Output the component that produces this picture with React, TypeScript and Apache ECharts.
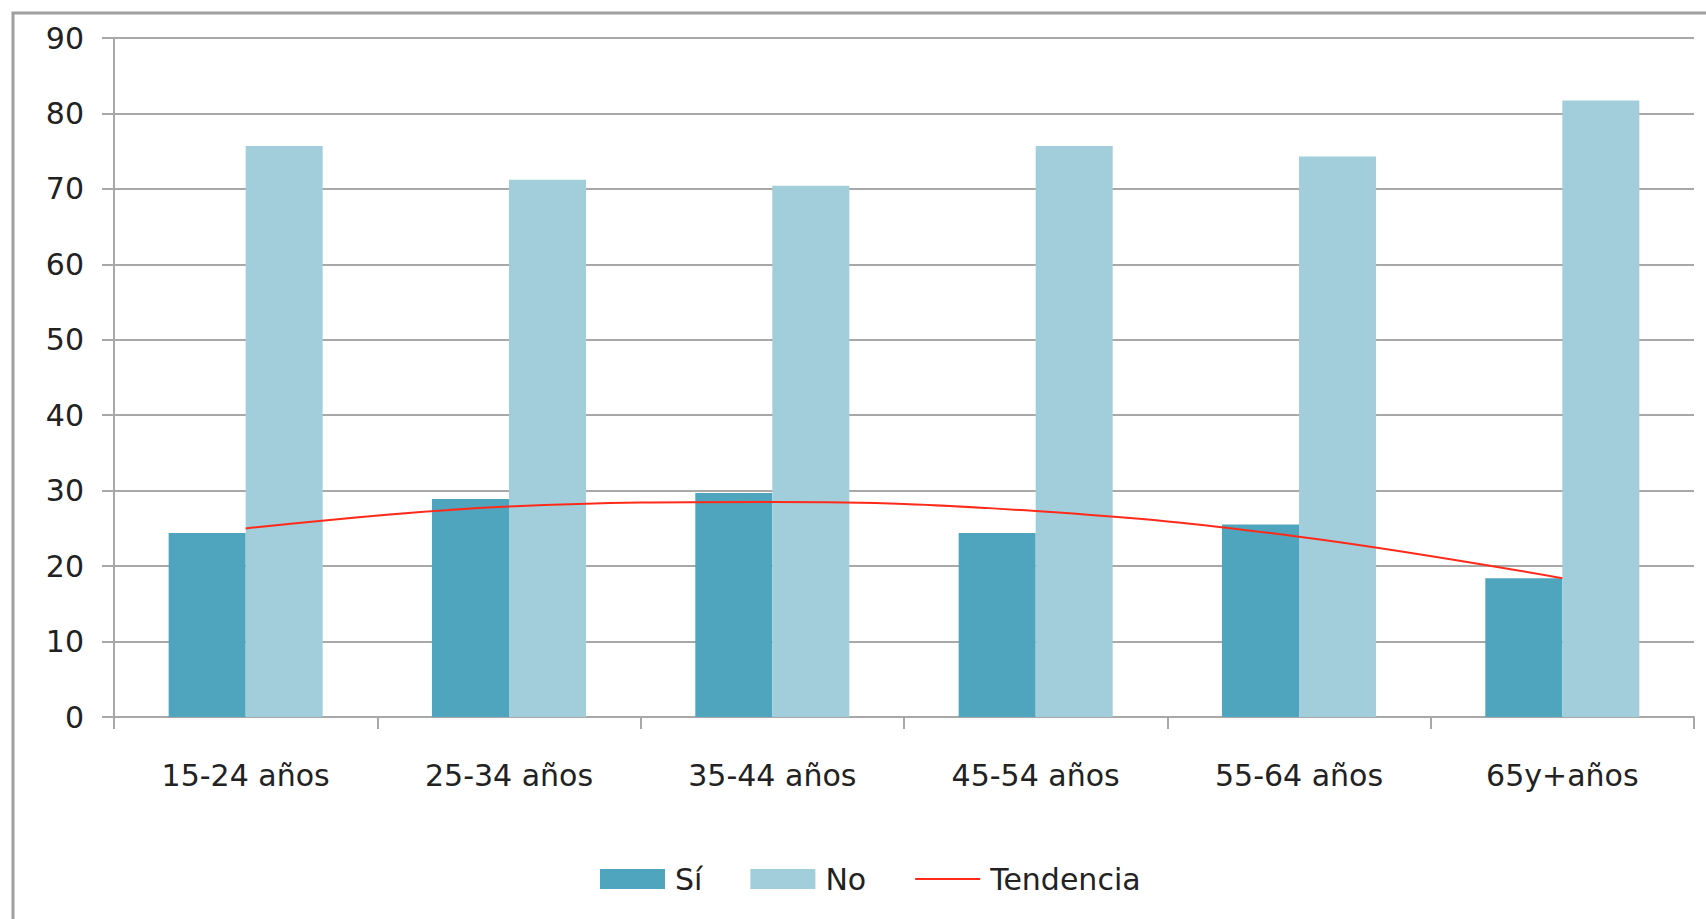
import React, { useEffect, useRef } from "react";
import * as echarts from "echarts";

const categories = ["15-24 años", "25-34 años", "35-44 años", "45-54 años", "55-64 años", "65y+años"];
const siValues = [24.4, 28.9, 29.7, 24.4, 25.5, 18.4];
const noValues = [75.7, 71.2, 70.4, 75.7, 74.3, 81.7];
const trendValues = [25.0, 27.9, 28.5, 27.3, 23.9, 18.4];
const yTicks = { min: 0, max: 90, interval: 10 };

const FONT = "DejaVu Sans";
const GRAY = "#a8a8a8";

export default function App() {
  const ref = useRef<HTMLDivElement>(null);
  useEffect(() => {
    if (!ref.current) return;
    const chart = echarts.init(ref.current, null, { renderer: "svg" });
    chart.setOption({
      animation: false,
      backgroundColor: "#ffffff",
      textStyle: { fontFamily: FONT },
      graphic: [
        {
          type: "rect",
          shape: { x: 13, y: 13, width: 1760, height: 1000 },
          style: { fill: "none", stroke: "#a0a0a0", lineWidth: 3 },
          silent: true,
        },
      ],
      grid: { left: 114, right: 12, top: 38, bottom: 202, containLabel: false },
      legend: {
        left: 595,
        top: 859,
        itemWidth: 65,
        itemHeight: 20,
        itemGap: 48,
        textStyle: { fontFamily: FONT, fontSize: 30, color: "#222", padding: [0, 0, 0, 5] },
        data: [
          { name: "Sí", icon: "rect" },
          { name: "No", icon: "rect" },
          { name: "Tendencia", itemStyle: { opacity: 0 } },
        ],
      },
      xAxis: {
        type: "category",
        data: categories,
        axisLine: { show: true, lineStyle: { color: GRAY, width: 2 } },
        axisTick: { show: true, length: 12, lineStyle: { color: GRAY, width: 2 } },
        axisLabel: { fontFamily: FONT, fontSize: 30, color: "#222", margin: 43 },
        splitLine: { show: false },
      },
      yAxis: {
        type: "value",
        min: yTicks.min,
        max: yTicks.max,
        interval: yTicks.interval,
        axisLine: { show: true, lineStyle: { color: GRAY, width: 2 } },
        axisTick: { show: true, length: 12, lineStyle: { color: GRAY, width: 2 } },
        axisLabel: { fontFamily: FONT, fontSize: 30, color: "#222", margin: 30 },
        splitLine: { show: true, lineStyle: { color: GRAY, width: 2 } },
      },
      series: [
        {
          name: "Sí",
          type: "bar",
          data: siValues,
          barGap: "0%",
          barCategoryGap: "41.5%",
          itemStyle: { color: "#4fa5bd" },
        },
        {
          name: "No",
          type: "bar",
          data: noValues,
          barGap: "0%",
          barCategoryGap: "41.5%",
          itemStyle: { color: "#a2cedb" },
        },
        {
          name: "Tendencia",
          type: "line",
          data: trendValues,
          smooth: 0.4,
          symbol: "none",
          lineStyle: { color: "#ff2a1a", width: 2 },
          itemStyle: { color: "#ff2a1a" },
          z: 5,
        },
      ],
    });
    return () => chart.dispose();
  }, []);
  return (
    <div
      ref={ref}
      style={{ position: "fixed", left: 0, top: 0, width: 1706, height: 919 }}
    />
  );
}
